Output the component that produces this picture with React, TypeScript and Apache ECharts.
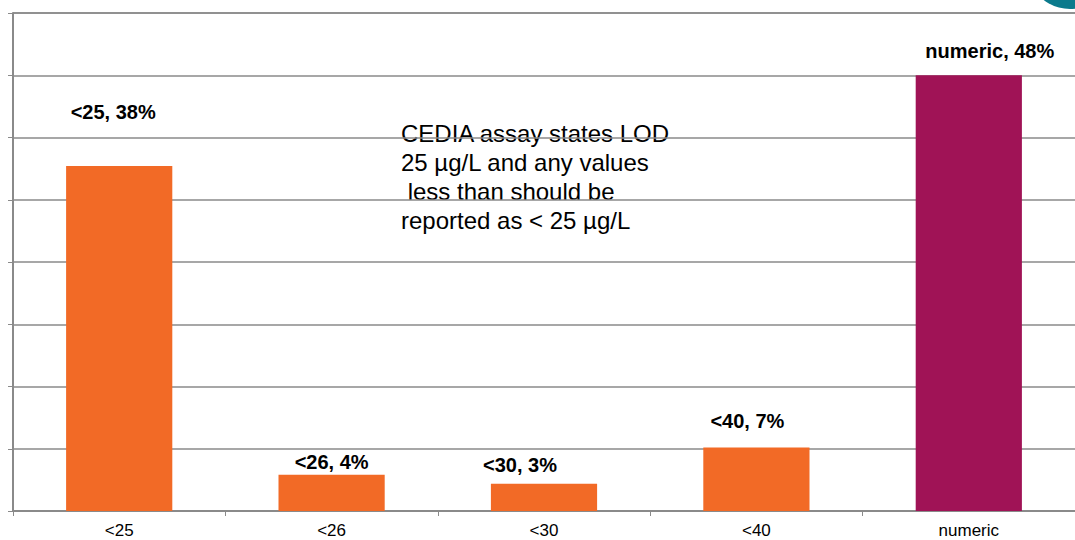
import React, { useEffect, useRef } from "react";
import * as echarts from "echarts";

const categories = ["<25", "<26", "<30", "<40", "numeric"];
const percentValues = [38, 4, 3, 7, 48];
const barColors = ["#F26A26", "#F26A26", "#F26A26", "#F26A26", "#A01356"];
// label nudges (dx, dy) so each callout sits where it was placed on the slide
const labelOffsets: [number, number][] = [
  [-6, -39],
  [0, 2],
  [-24, -4],
  [-9, -11],
  [21, -9],
];
const noteLines = [
  "CEDIA assay states LOD",
  "25 µg/L and any values",
  " less than should be",
  "reported as < 25 µg/L",
];

// seven gridline steps up to the largest share, eight in total
const yStep = 48 / 7;
const yMax = yStep * 8;

export default function App() {
  const ref = useRef<HTMLDivElement>(null);

  useEffect(() => {
    if (!ref.current) return;
    const chart = echarts.init(ref.current, undefined, { renderer: "svg" });
    chart.setOption({
      animation: false,
      backgroundColor: "#ffffff",
      grid: { left: 13, right: 0, top: 13, bottom: 29, containLabel: false },
      xAxis: {
        type: "category",
        data: categories,
        axisLine: { lineStyle: { color: "#8a8a8a", width: 2 } },
        axisTick: { show: true, length: 5, lineStyle: { color: "#8a8a8a", width: 1 } },
        axisLabel: {
          color: "#000",
          fontFamily: "Liberation Sans, Arial, sans-serif",
          fontSize: 17,
          margin: 11,
        },
      },
      yAxis: {
        type: "value",
        min: 0,
        max: yMax,
        interval: yStep,
        axisLine: { show: true, lineStyle: { color: "#8a8a8a", width: 2 } },
        axisTick: { show: true, length: 5, lineStyle: { color: "#8a8a8a" } },
        axisLabel: { show: false },
        splitLine: { show: true, lineStyle: { color: "#8a8a8a", width: 1.5 } },
      },
      series: [
        {
          type: "bar",
          barWidth: "50%",
          data: percentValues.map((v, i) => ({
            value: v,
            itemStyle: { color: barColors[i] },
            label: {
              show: true,
              position: "top",
              offset: labelOffsets[i],
              formatter: `${categories[i]}, ${v}%`,
              color: "#000",
              fontWeight: "bold",
              fontSize: 20,
              fontFamily: "Liberation Sans, Arial, sans-serif",
            },
          })),
        },
      ],
      graphic: [
        {
          type: "circle",
          shape: { cx: 1070, cy: -34, r: 43 },
          style: { fill: "#0B7A8C" },
          silent: true,
        },
        {
          type: "text",
          left: 401,
          top: 119,
          style: {
            text: noteLines.join("\n"),
            fill: "#000",
            fontSize: 24,
            lineHeight: 29,
            fontFamily: "Liberation Sans, Arial, sans-serif",
          },
        },
      ],
    });
    return () => chart.dispose();
  }, []);

  return (
    <div
      ref={ref}
      style={{ position: "fixed", left: 0, top: 0, width: 1075, height: 540 }}
    />
  );
}
